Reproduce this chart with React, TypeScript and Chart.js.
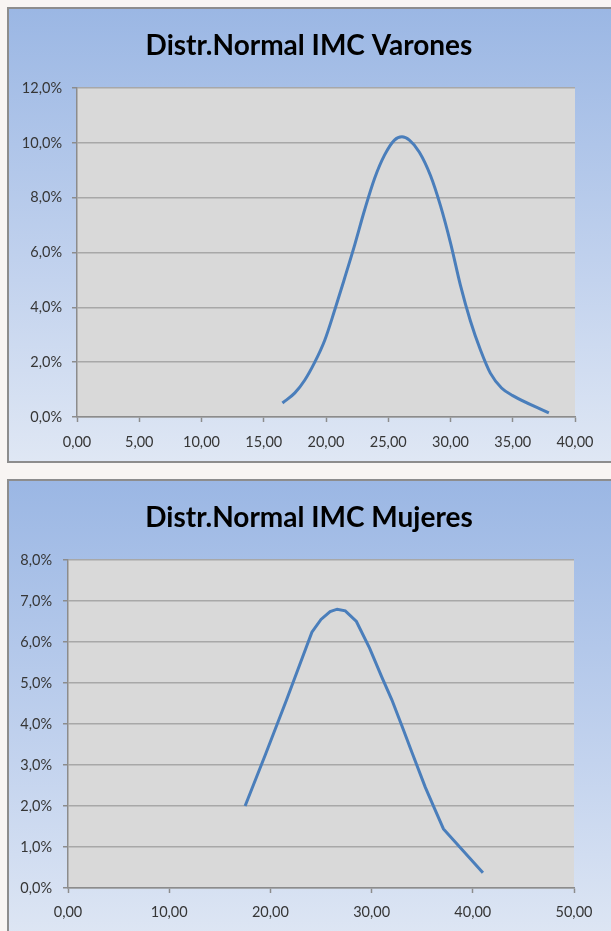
import React, { useEffect, useRef } from "react";
import { Chart, registerables } from "chart.js";

Chart.register(...registerables);

// ---- data ----
const varonesTitle = "Distr.Normal IMC Varones";
const varonesImc = [16.5, 17.5, 18.3, 19.1, 19.9, 20.7, 21.5, 22.3, 23.1, 23.9, 24.7, 25.5, 26.1, 26.7, 27.5, 28.4, 29.2, 30.0, 30.8, 31.6, 32.4, 33.2, 34.1, 35.0, 37.9];
const varonesPct = [0.51, 0.88, 1.35, 2.0, 2.8, 3.9, 5.07, 6.27, 7.55, 8.7, 9.55, 10.1, 10.22, 10.1, 9.66, 8.8, 7.7, 6.35, 4.8, 3.5, 2.45, 1.6, 1.06, 0.78, 0.15];
const varonesXTicks = [0, 5, 10, 15, 20, 25, 30, 35, 40];
const varonesYTicks = [0, 2, 4, 6, 8, 10, 12];

const mujeresTitle = "Distr.Normal IMC Mujeres";
const mujeresImc = [17.5, 19.5, 21.6, 24.1, 25.0, 25.9, 26.6, 27.4, 28.5, 29.8, 31.0, 32.0, 33.0, 34.0, 35.3, 36.2, 37.1, 41.0];
const mujeresPct = [2.0, 3.25, 4.59, 6.24, 6.55, 6.74, 6.8, 6.76, 6.5, 5.85, 5.15, 4.59, 3.95, 3.3, 2.46, 1.95, 1.44, 0.37];
const mujeresXTicks = [0, 10, 20, 30, 40, 50];
const mujeresYTicks = [0, 1, 2, 3, 4, 5, 6, 7, 8];

const FONT = 'Lato, "Noto Sans", sans-serif';
const GRID = "#a8a8a8";
const AXIS = "#8c8c8c";
const LABEL = "#363636";

const plotBg = {
  id: "plotBg",
  beforeDraw(chart: any) {
    const a = chart.chartArea;
    if (!a) return;
    const ctx = chart.ctx;
    ctx.save();
    ctx.fillStyle = "#d9d9d9";
    ctx.fillRect(a.left, a.top, a.right - a.left, a.bottom - a.top);
    ctx.restore();
  },
};

const panelTitle = {
  id: "panelTitle",
  afterDraw(chart: any, _args: any, opts: any) {
    const ctx = chart.ctx;
    ctx.save();
    ctx.fillStyle = "#000000";
    ctx.font = `bold ${opts.size}px ${FONT}`;
    ctx.textAlign = "center";
    ctx.textBaseline = "middle";
    ctx.fillText(opts.text, chart.width / 2, opts.y);
    ctx.restore();
  },
};

type PanelProps = {
  title: string;
  xs: number[];
  ys: number[];
  xTicks: number[];
  yTicks: number[];
  smooth: boolean;
  boxTop: number;
  boxHeight: number;
  canvasHeight: number;
  yWidth: number;
  padRight: number;
  xHeight: number;
  yPad: number;
  xPad: number;
};

function Panel(p: PanelProps) {
  const ref = useRef<HTMLCanvasElement | null>(null);
  useEffect(() => {
    if (!ref.current) return;
    const data = p.xs.map((x, i) => ({ x, y: p.ys[i] }));
    const chart = new Chart(ref.current, {
      type: "line",
      data: {
        datasets: [
          {
            data,
            borderColor: "#4a7ebb",
            borderWidth: 3,
            pointRadius: 0,
            tension: p.smooth ? 0.4 : 0,
            cubicInterpolationMode: p.smooth ? "monotone" : "default",
            fill: false,
          },
        ],
      },
      options: {
        animation: false,
        responsive: true,
        maintainAspectRatio: false,
        layout: { padding: { left: 0, right: p.padRight, top: 79, bottom: 0 } },
        plugins: {
          legend: { display: false },
          tooltip: { enabled: false },
          title: { display: false },
          panelTitle: { text: p.title, size: 28, y: 37 },
        },
        scales: {
          x: {
            type: "linear",
            min: p.xTicks[0],
            max: p.xTicks[p.xTicks.length - 1],
            afterBuildTicks: (scale: any) => {
              scale.ticks = p.xTicks.map((v) => ({ value: v }));
            },
            afterFit: (scale: any) => {
              scale.height = p.xHeight;
            },
            ticks: {
              color: LABEL,
              font: { family: FONT, size: 14.5 },
              padding: p.xPad,
              maxRotation: 0,
              autoSkip: false,
              callback: (v: any) => Number(v).toFixed(2).replace(".", ","),
            },
            grid: {
              drawOnChartArea: false,
              drawTicks: true,
              tickLength: 5,
              tickColor: AXIS,
              tickWidth: 1.5,
            },
            border: { display: true, color: AXIS, width: 1.5 },
          },
          y: {
            type: "linear",
            min: p.yTicks[0],
            max: p.yTicks[p.yTicks.length - 1],
            afterBuildTicks: (scale: any) => {
              scale.ticks = p.yTicks.map((v) => ({ value: v }));
            },
            afterFit: (scale: any) => {
              scale.width = p.yWidth;
            },
            ticks: {
              color: LABEL,
              font: { family: FONT, size: 14.5 },
              padding: p.yPad,
              autoSkip: false,
              callback: (v: any) => Number(v).toFixed(1).replace(".", ",") + "%",
            },
            grid: {
              color: GRID,
              lineWidth: 1.5,
              drawTicks: true,
              tickLength: 5,
              tickColor: AXIS,
            },
            border: { display: true, color: AXIS, width: 1.5 },
          },
        },
      } as any,
      plugins: [plotBg, panelTitle],
    });
    return () => chart.destroy();
  }, []);

  return (
    <div
      style={{
        position: "absolute",
        left: 7,
        top: p.boxTop,
        width: 620,
        height: p.boxHeight,
        border: "2px solid #8d8d8d",
        boxSizing: "border-box",
        background: "linear-gradient(to bottom, #9bb7e4 0%, #c3d3ee 60%, #dfe7f4 100%)",
      }}
    >
      <div style={{ position: "absolute", left: 0, top: 0, width: 600, height: p.canvasHeight }}>
        <canvas ref={ref} />
      </div>
    </div>
  );
}

export default function App() {
  return (
    <div
      style={{
        position: "fixed",
        left: 0,
        top: 0,
        width: 611,
        height: 931,
        overflow: "hidden",
        background: "#f8f5f3",
      }}
    >
      <Panel
        title={varonesTitle}
        xs={varonesImc}
        ys={varonesPct}
        xTicks={varonesXTicks}
        yTicks={varonesYTicks}
        smooth={true}
        boxTop={7}
        boxHeight={456}
        canvasHeight={452}
        yWidth={68}
        padRight={34}
        xHeight={44}
        yPad={10}
        xPad={12}
      />
      <Panel
        title={mujeresTitle}
        xs={mujeresImc}
        ys={mujeresPct}
        xTicks={mujeresXTicks}
        yTicks={mujeresYTicks}
        smooth={false}
        boxTop={479}
        boxHeight={470}
        canvasHeight={450}
        yWidth={59}
        padRight={35}
        xHeight={43}
        yPad={11}
        xPad={11}
      />
    </div>
  );
}
